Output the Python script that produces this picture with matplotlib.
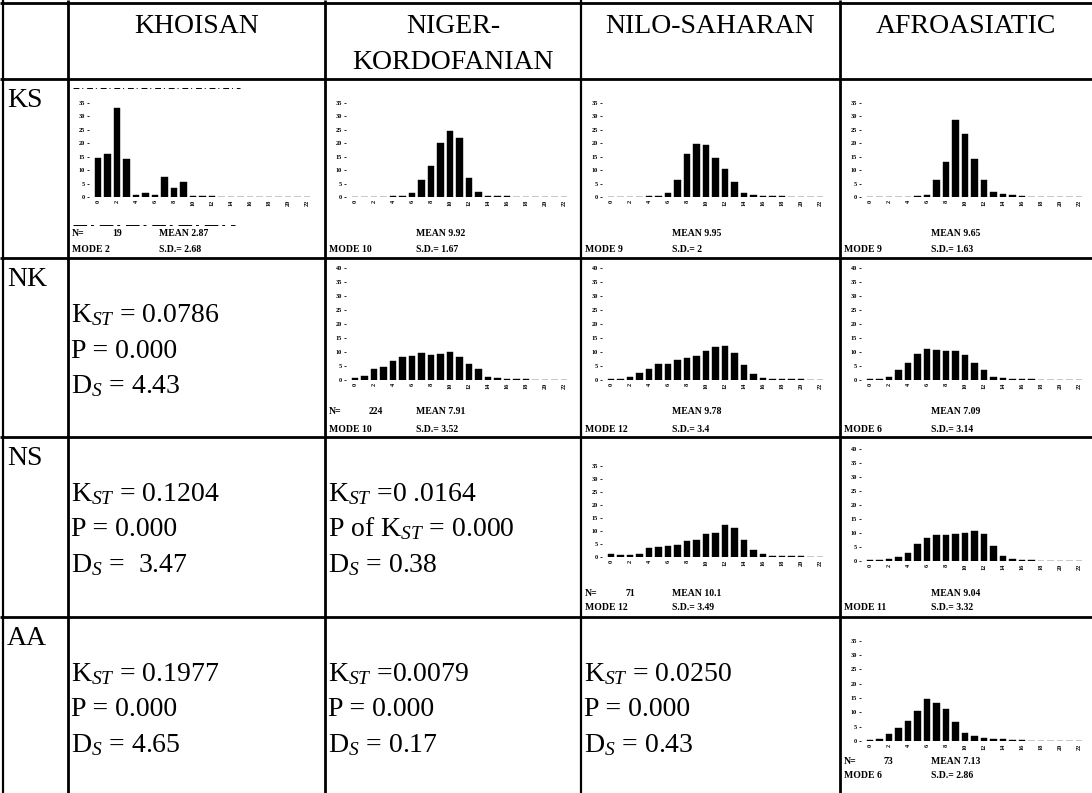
import matplotlib
matplotlib.use("Agg")
import matplotlib.pyplot as plt
import numpy as np

plt.rcParams['font.family'] = ['Liberation Serif', 'DejaVu Serif']
plt.rcParams['mathtext.fontset'] = 'custom'
plt.rcParams['mathtext.rm'] = 'Liberation Serif'
plt.rcParams['mathtext.it'] = 'Liberation Serif:italic'

# ---- table content ----
families = ["KHOISAN", "NIGER-\nKORDOFANIAN", "NILO-SAHARAN", "AFROASIATIC"]
row_codes = ["KS", "NK", "NS", "AA"]

bins = list(range(23))          # pairwise difference classes 0..22
xtick_labels = [str(v) for v in range(0, 23, 2)]

# percentage of pairs in each class
ks_khoisan = [14.6, 16.1, 33.0, 14.0, 0.6, 1.5, 0.7, 7.3, 3.3, 5.4, 0.2, 0.2, 0.4,
              0, 0, 0, 0, 0, 0, 0, 0, 0, 0]
ks_niger = [0, 0, 0, 0, 0.3, 0.5, 1.5, 6.5, 11.6, 20.2, 24.7, 21.9, 7.2, 1.9, 0.5,
            0.3, 0.2, 0, 0, 0, 0, 0, 0]
ks_nilo = [0, 0, 0, 0, 0.3, 0.5, 1.5, 6.5, 15.9, 19.8, 19.4, 14.4, 10.4, 5.4, 1.5,
           0.9, 0.5, 0.4, 0.3, 0, 0, 0, 0]
ks_afro = [0, 0, 0, 0, 0, 0.3, 0.6, 6.2, 13.0, 28.8, 23.3, 14.1, 6.2, 1.9, 1.2,
           0.6, 0.4, 0, 0, 0, 0, 0, 0]
nk_niger = [0.8, 1.4, 3.8, 4.5, 6.9, 8.3, 8.7, 9.5, 8.8, 9.3, 10.1, 8.2, 5.7, 3.8,
            1.2, 0.6, 0.5, 0.3, 0.2, 0.1, 0, 0, 0]
nk_nilo = [0.2, 0.4, 1.2, 2.4, 4.1, 5.6, 5.8, 7.0, 7.8, 8.6, 10.4, 11.8, 12.3, 9.5,
           5.3, 2.1, 0.6, 0.5, 0.4, 0.3, 0.2, 0, 0]
nk_afro = [0.3, 0.5, 1.2, 3.6, 6.0, 9.3, 11.0, 10.7, 10.5, 10.5, 8.9, 6.0, 3.6, 1.2,
           0.6, 0.4, 0.3, 0.2, 0, 0, 0, 0, 0]
ns_nilo = [1.0, 0.8, 0.8, 1.2, 3.4, 3.8, 4.1, 4.6, 6.0, 6.6, 8.8, 9.2, 12.3, 11.2,
           6.5, 2.8, 1.0, 0.5, 0.4, 0.3, 0.3, 0, 0]
ns_afro = [0.2, 0.3, 0.6, 1.4, 3.0, 6.0, 8.3, 9.2, 9.2, 9.5, 10.1, 10.7, 9.5, 5.4,
           1.8, 0.6, 0.4, 0.3, 0, 0, 0, 0, 0]
aa_afro = [0.5, 0.6, 2.3, 4.7, 7.0, 10.5, 14.5, 13.3, 11.2, 6.5, 2.9, 1.7, 1.2, 0.8,
           0.6, 0.4, 0.3, 0, 0, 0, 0, 0, 0]

# summary statistics printed under each histogram
stats = {
    (0, 0): ("19", "2.87", "2", "2.68"),
    (0, 1): (None, "9.92", "10", "1.67"),
    (0, 2): (None, "9.95", "9", "2"),
    (0, 3): (None, "9.65", "9", "1.63"),
    (1, 1): ("224", "7.91", "10", "3.52"),
    (1, 2): (None, "9.78", "12", "3.4"),
    (1, 3): (None, "7.09", "6", "3.14"),
    (2, 2): ("71", "10.1", "12", "3.49"),
    (2, 3): (None, "9.04", "11", "3.32"),
    (3, 3): ("73", "7.13", "6", "2.86"),
}

# K_ST / P / D_S entries below the diagonal
kst_cells = {
    (1, 0): ["K$_{ST}$ = 0.0786", "P = 0.000", "D$_{S}$ = 4.43"],
    (2, 0): ["K$_{ST}$ = 0.1204", "P = 0.000", "D$_{S}$ =  3.47"],
    (2, 1): ["K$_{ST}$ =0 .0164", "P of K$_{ST}$ = 0.000", "D$_{S}$ = 0.38"],
    (3, 0): ["K$_{ST}$ = 0.1977", "P = 0.000", "D$_{S}$ = 4.65"],
    (3, 1): ["K$_{ST}$ =0.0079", "P = 0.000", "D$_{S}$ = 0.17"],
    (3, 2): ["K$_{ST}$ = 0.0250", "P = 0.000", "D$_{S}$ = 0.43"],
}

hists = [
    (0, 0, ks_khoisan, 35), (0, 1, ks_niger, 35), (0, 2, ks_nilo, 35), (0, 3, ks_afro, 35),
    (1, 1, nk_niger, 40), (1, 2, nk_nilo, 40), (1, 3, nk_afro, 40),
    (2, 2, ns_nilo, 35), (2, 3, ns_afro, 40),
    (3, 3, aa_afro, 35),
]

# ---- layout (pixels) ----
W, H = 1092, 793
col_left = [68, 325, 581, 840]
row_top = [79, 258, 437, 617]
h_lines = [3, 79, 258, 437, 617]
v_lines = [3, 68, 325, 581, 840]

# vertical placement of each histogram: (pixel of zero line, pixels per percent)
hist_geom = {
    (0, 0): (197, 2.69), (0, 1): (197, 2.69), (0, 2): (197, 2.69), (0, 3): (197, 2.69),
    (1, 1): (380, 2.8), (1, 2): (380, 2.8), (1, 3): (380, 2.8),
    (2, 2): (557, 2.6), (2, 3): (561, 2.8),
    (3, 3): (741, 2.87),
}
stat_rows = {0: (234, 249), 1: (412, 429), 2: (593, 608), 3: (761, 776)}

fig = plt.figure(figsize=(W / 100, H / 100), dpi=100)
bg = fig.add_axes([0, 0, 1, 1])
bg.set_xlim(0, W)
bg.set_ylim(H, 0)
bg.axis('off')

# grid of the table
for y in h_lines:
    bg.plot([0, W], [y, y], color='black', lw=2.0, solid_capstyle='butt')
for x in v_lines:
    lw = 1.6 if x in (3, 581) else 2.0
    bg.plot([x, x], [0, H], color='black', lw=lw, solid_capstyle='butt')

big = 20
# column headers
header_x = [(col_left[i] + (col_left[i + 1] if i < 3 else W)) / 2 for i in range(4)]
for i, name in enumerate(families):
    lines = name.split("\n")
    for j, ln in enumerate(lines):
        bg.text(header_x[i], 33 + 36 * j, ln, ha='center', va='baseline',
                fontsize=big, color='black')

# row labels
for r, code in enumerate(row_codes):
    bg.text(7, row_top[r] + 28, code, ha='left', va='baseline', fontsize=big)

# K_ST cells
for (r, c), lines in kst_cells.items():
    x = col_left[c] + 3
    base = row_top[r] + 64
    for j, ln in enumerate(lines):
        bg.text(x, base + 35.5 * j, ln, ha='left', va='baseline', fontsize=big)

# histograms
ppx = 9.5
for r, c, vals, ymax in hists:
    y0, ppu = hist_geom[(r, c)]
    left = col_left[c] + 30 - 1.0 * ppx
    width = 24 * ppx
    height = ymax * ppu
    ax = fig.add_axes([left / W, 1 - y0 / H, width / W, height / H])
    ax.bar(bins, vals, width=0.68, color='black', edgecolor='black', linewidth=0.3)
    ax.set_xlim(-1, 23)
    ax.set_ylim(0, ymax)
    for s in ax.spines.values():
        s.set_visible(False)
    ax.set_xticks(range(0, 23, 2))
    ax.set_xticklabels(xtick_labels, rotation=90, fontsize=4.5, fontweight='bold')
    ax.set_yticks(range(0, ymax + 1, 5))
    ax.set_yticklabels([str(v) for v in range(0, ymax + 1, 5)], fontsize=4.5,
                       fontweight='bold')
    ax.tick_params(axis='x', length=0, pad=2)
    ax.tick_params(axis='y', length=1.2, width=0.6, pad=1.5, direction='out')
    ax.patch.set_alpha(0)

    n, mean, mode, sd = stats[(r, c)]
    ya, yb = stat_rows[r]
    x0 = col_left[c] + 4
    kw = dict(fontsize=7, fontweight='bold', va='center', ha='left')
    if n is not None:
        bg.text(x0, ya, "N=", **kw)
        bg.text(x0 + 40, ya, n, **kw)
    bg.text(x0 + 87, ya, "MEAN " + mean, **kw)
    bg.text(x0, yb, "MODE " + mode, **kw)
    bg.text(x0 + 87, yb, "S.D.= " + sd, **kw)

# faint box remnants around the first histogram
bg.plot([73, 240], [88, 88], color='black', lw=0.7, ls=(0, (6, 3, 1, 4)))
bg.plot([73, 235], [225, 225], color='black', lw=0.7, ls=(0, (14, 4, 3, 6)))

fig.savefig("out.png", dpi=100)
